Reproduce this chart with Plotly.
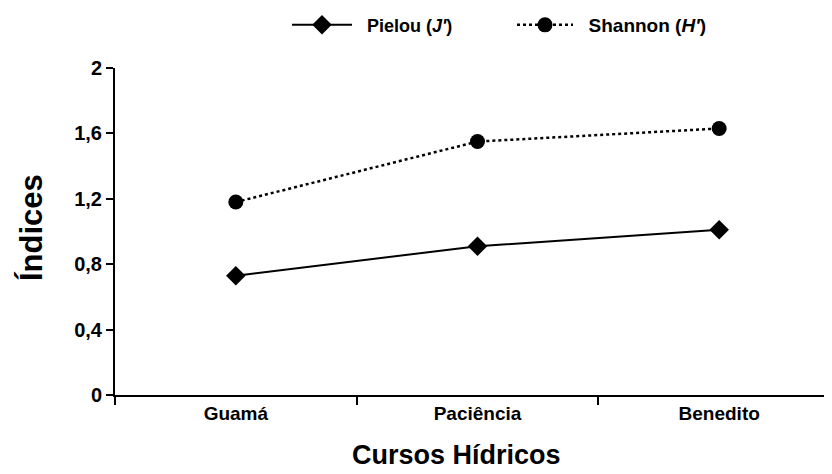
import plotly.graph_objects as go

categories = ["Guamá", "Paciência", "Benedito"]
pielou = [0.73, 0.91, 1.01]
shannon = [1.18, 1.55, 1.63]
y_ticks = [0, 0.4, 0.8, 1.2, 1.6, 2]

FONT = "Liberation Sans, Arial, sans-serif"

# page offset (browser body margin)
OFF = 8
W, H = 832, 474
L, R, T, B = 107, 0, 60, 87
PW, PH = W - L - R, H - T - B


def to_paper(px, py):
    return (px - OFF - L) / PW, (OFF + H - B - py) / PH


fig = go.Figure()
fig.add_trace(go.Scatter(
    x=categories, y=pielou, mode="lines+markers",
    name="&nbsp;&nbsp;Pielou (<i>J'</i>)",
    line=dict(color="black", width=2),
    marker=dict(symbol="diamond", size=15, color="black"),
    legend="legend",
))
fig.add_trace(go.Scatter(
    x=categories, y=shannon, mode="lines+markers",
    name="&nbsp;&nbsp;Shannon (<i>H'</i>)",
    line=dict(color="black", width=2.5, dash="dot"),
    marker=dict(symbol="circle", size=15, color="black"),
    legend="legend2",
))

lx1, _ = to_paper(287, 0)
lx2, _ = to_paper(512, 0)
ly = 1 - (25 - OFF) / H

tx, ty = to_paper(456, 455)
yx, yy = to_paper(31, 228)

fig.update_layout(
    width=W, height=H,
    margin=dict(l=L, r=R, t=T, b=B),
    plot_bgcolor="white", paper_bgcolor="white",
    separators=",.",
    font=dict(family=FONT, color="black", size=18),
    showlegend=True,
    legend=dict(x=lx1, xanchor="left", y=ly, yref="container",
                yanchor="middle", font=dict(size=18, family=FONT, weight="bold"),
                bgcolor="rgba(0,0,0,0)", itemwidth=60),
    legend2=dict(x=lx2, xanchor="left", y=ly, yref="container",
                 yanchor="middle", font=dict(size=19, family=FONT, weight="bold"),
                 bgcolor="rgba(0,0,0,0)", itemwidth=56),
    xaxis=dict(
        type="category", range=[-0.5, 2.5], showline=True, linecolor="black",
        linewidth=2, ticks="outside", tickson="boundaries", ticklen=8,
        tickwidth=2, tickcolor="black", showgrid=False, zeroline=False,
        tickfont=dict(size=19, family=FONT, weight="bold"), automargin=False,
    ),
    yaxis=dict(
        range=[0, 2], tickvals=y_ticks, showline=True, linecolor="black",
        linewidth=2, ticks="outside", ticklen=7, tickwidth=2,
        tickcolor="black", showgrid=False, zeroline=False,
        tickfont=dict(size=20, family=FONT, weight="bold"), automargin=False,
    ),
    annotations=[
        dict(text="<b>Cursos Hídricos</b>", x=tx, y=ty, xref="paper",
             yref="paper", xanchor="center", yanchor="middle",
             showarrow=False, font=dict(size=27, family=FONT)),
        dict(text="<b>Índices</b>", x=yx, y=yy, xref="paper", yref="paper",
             xanchor="center", yanchor="middle",
             showarrow=False, textangle=-90, font=dict(size=31, family=FONT)),
    ],
)

fig.write_html("out.html")
